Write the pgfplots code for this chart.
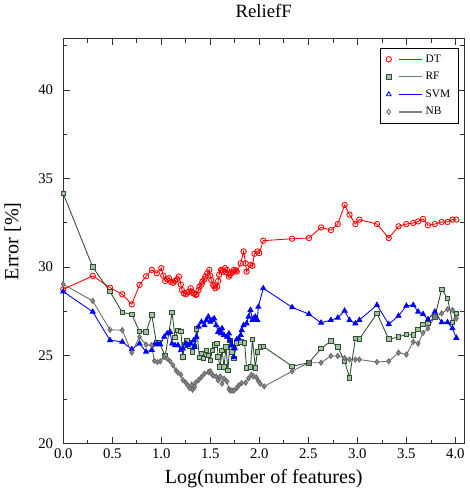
\documentclass[border=0pt]{standalone}
\usepackage{fontspec}
\setmainfont{Liberation Serif}
\usepackage{pgfplots}
\pgfplotsset{compat=1.18}
\definecolor{rfline}{RGB}{45,80,45}
\definecolor{rffill}{RGB}{165,192,165}
\definecolor{rfleg}{RGB}{100,130,100}
\definecolor{nbline}{RGB}{105,105,105}
\definecolor{nbfill}{RGB}{140,140,140}
\definecolor{nbleg}{RGB}{130,130,130}
\begin{document}
\begin{tikzpicture}
\begin{axis}[
  scale only axis,
  width=299pt, height=302pt,
  xmin=0, xmax=4.09, ymin=20, ymax=42.9,
  xtick={0,0.5,...,4.0},
  minor xtick={0.25,0.75,...,4.0},
  ytick={20,25,30,35,40},
  minor ytick={22.5,27.5,32.5,37.5,42.5},
  tick align=inside,
  major tick length=5pt, minor tick length=3pt,
  xticklabel style={/pgf/number format/fixed,/pgf/number format/fixed zerofill,/pgf/number format/precision=1},
  yticklabel style={xshift=-4pt},
  /pgf/number format/assume math mode=true,
  tick label style={font=\fontsize{11}{12}\selectfont},
  xlabel={Log(number of features)},
  ylabel={Error [\%]},
  label style={font=\fontsize{15}{17}\selectfont},
  xlabel style={yshift=-1pt},
  ylabel style={yshift=6pt},
  title={ReliefF},
  title style={font=\fontsize{14}{16}\selectfont, yshift=6pt},
  axis line style={black!80, line width=0.6pt},
  every tick/.style={black!80, line width=0.5pt},
  legend style={at={(0.986,0.978)}, anchor=north east, font=\fontsize{8.5}{10}\selectfont,
    inner xsep=4pt, inner ysep=3pt, row sep=2pt, cells={anchor=west}},
  every axis plot/.append style={line width=0.65pt},
]
\addplot[red, mark=o, mark size=2pt,
  legend image code/.code={\path[draw=red, line width=0.8pt] (8pt,0pt) -- (25pt,0pt); \draw[red, line width=0.65pt] plot[mark=o, mark size=2pt] coordinates {(0pt,0pt)};}] coordinates {
(0,28.73)(0.301,29.49)(0.477,28.82)(0.602,28.45)(0.699,27.88)(0.778,28.98)(0.845,29.47)(0.903,29.83)(0.954,29.64)(1.0,29.93)
(1.02,29.5)(1.04,29.2)(1.06,29.3)(1.08,29.36)(1.10,29.15)(1.12,29.1)(1.14,29.2)(1.16,29.3)(1.18,29.45)(1.20,29.0)
(1.21,28.69)(1.23,28.5)(1.25,28.45)(1.27,28.55)(1.28,28.6)(1.30,28.79)(1.31,28.6)(1.33,28.5)(1.35,28.41)(1.36,28.45)
(1.38,28.69)(1.39,28.88)(1.41,29.0)(1.42,29.17)(1.44,29.3)(1.45,29.45)(1.47,29.64)(1.49,29.83)(1.50,29.5)(1.51,29.26)
(1.53,28.98)(1.54,28.9)(1.55,28.79)(1.57,28.88)(1.58,29.2)(1.59,29.55)(1.61,29.83)(1.62,29.8)(1.63,29.73)(1.65,29.93)
(1.66,29.7)(1.67,29.83)(1.69,29.45)(1.70,29.55)(1.71,29.64)(1.73,29.7)(1.74,29.83)(1.76,29.8)(1.77,29.73)
(1.81,30.2)(1.84,30.87)(1.86,30.2)(1.87,29.73)(1.91,30.11)(1.93,30.06)(1.95,30.74)(1.98,30.87)(2.0,30.78)(2.04,31.48)
(2.335,31.59)(2.506,31.63)(2.63,32.23)(2.73,32.08)(2.80,32.42)(2.87,33.5)(2.92,32.95)(2.98,32.42)(3.02,32.67)(3.20,32.42)
(3.32,31.63)(3.42,32.29)(3.50,32.42)(3.57,32.48)(3.62,32.57)(3.67,32.71)(3.72,32.35)(3.79,32.42)(3.86,32.54)(3.92,32.54)
(3.97,32.67)(4.01,32.67)
};
\addlegendentry{DT}
\addplot[rfline, mark=square*, mark size=1.7pt, mark options={fill=rffill, draw=rfline},
  legend image code/.code={\path[draw=rfleg, line width=0.9pt] (8pt,0pt) -- (25pt,0pt); \draw[rfline, line width=0.65pt] plot[mark=square*, mark size=1.7pt, mark options={fill=rffill}] coordinates {(0pt,0pt)};}] coordinates {
(0,34.15)(0.301,29.98)(0.477,28.6)(0.602,27.43)(0.699,27.31)(0.778,26.36)(0.845,26.31)(0.903,27.29)(0.95,25.7)(0.98,25.72)
(1.04,24.95)(1.11,27.43)(1.14,26.0)(1.17,26.4)(1.20,26.35)(1.22,24.9)(1.24,25.6)(1.26,25.85)(1.29,25.5)(1.32,25.19)
(1.34,25.5)(1.36,26.5)(1.39,24.87)(1.41,25.1)(1.43,24.81)(1.46,25.28)(1.48,25.0)(1.50,24.72)(1.52,25.28)(1.55,25.57)
(1.57,25.66)(1.58,24.9)(1.60,24.34)(1.62,25.28)(1.64,24.34)(1.66,25.47)(1.68,24.15)(1.70,25.85)(1.72,25.2)(1.74,24.81)
(1.77,25.7)(1.81,25.76)(1.85,25.7)(1.87,24.3)(1.91,24.34)(1.93,25.9)(1.96,24.3)(1.98,25.2)(2.01,25.47)(2.04,25.5)
(2.335,24.38)(2.506,24.58)(2.63,25.38)(2.73,25.80)(2.80,25.47)(2.87,24.66)(2.92,23.73)(2.98,25.95)(3.02,25.91)(3.20,27.37)
(3.32,25.91)(3.42,26.04)(3.50,26.18)(3.57,26.14)(3.62,26.46)(3.67,26.74)(3.72,26.80)(3.79,27.18)(3.86,28.73)(3.92,28.22)
(3.97,26.86)(4.01,27.37)
};
\addlegendentry{RF}
\addplot[blue, mark=triangle*, mark size=2.1pt, mark options={fill=blue},
  legend image code/.code={\path[draw=blue, line width=0.8pt] (8pt,0pt) -- (25pt,0pt); \draw[blue, line width=0.65pt] plot[mark=triangle, mark size=2pt] coordinates {(0pt,0pt)};}] coordinates {
(0,28.6)(0.301,27.46)(0.477,25.85)(0.602,25.76)(0.699,25.34)(0.778,25.66)(0.845,25.2)(0.903,25.3)(0.93,25.61)(0.96,25.66)
(0.99,25.61)(1.03,26.04)(1.06,26.23)(1.09,26.32)(1.11,25.66)(1.14,25.57)(1.17,25.57)(1.20,25.28)(1.22,25.38)(1.25,25.66)
(1.27,25.57)(1.30,25.66)(1.33,25.85)(1.34,25.47)(1.36,26.04)(1.38,26.61)(1.41,26.89)(1.44,26.7)(1.46,26.99)(1.48,27.18)
(1.50,26.89)(1.52,26.99)(1.54,27.08)(1.56,26.7)(1.58,26.32)(1.59,26.42)(1.61,26.23)(1.62,26.52)(1.64,26.14)(1.67,26.04)
(1.69,26.23)(1.70,25.85)(1.72,25.57)(1.74,24.9)(1.75,25.38)(1.77,25.9)(1.79,25.95)(1.81,26.14)(1.82,26.42)(1.84,26.7)
(1.87,26.8)(1.89,27.18)(1.91,27.56)(1.93,26.99)(1.94,27.08)(1.96,27.18)(1.98,26.99)(1.99,27.74)(2.04,28.79)
(2.335,27.71)(2.506,27.33)(2.63,26.84)(2.73,26.99)(2.80,27.12)(2.87,27.52)(2.92,26.99)(2.98,26.80)(3.02,26.99)(3.20,27.84)
(3.32,26.76)(3.42,27.23)(3.50,27.80)(3.57,27.84)(3.62,27.46)(3.67,27.33)(3.72,27.03)(3.79,27.46)(3.86,26.86)(3.92,26.86)
(3.97,26.52)(4.01,25.98)
};
\addlegendentry{SVM}
\addplot[nbline, mark=diamond*, mark size=1.9pt, mark options={fill=nbfill, draw=nbline},
  legend image code/.code={\path[draw=nbleg, line width=0.9pt] (8pt,0pt) -- (25pt,0pt); \draw[nbline, line width=0.65pt] plot[mark=diamond, mark size=1.9pt] coordinates {(0pt,0pt)};}] coordinates {
(0,29.02)(0.301,28.07)(0.477,26.44)(0.602,26.42)(0.699,25.15)(0.778,26.04)(0.845,25.6)(0.90,25.57)(0.93,24.68)(0.96,24.62)
(0.99,24.66)(1.03,24.9)(1.06,24.81)(1.09,24.66)(1.12,24.43)(1.15,24.15)(1.17,24.02)(1.20,23.9)(1.22,23.6)(1.25,23.45)
(1.27,23.3)(1.29,23.14)(1.31,23.34)(1.32,23.05)(1.34,23.2)(1.35,23.45)(1.38,23.6)(1.41,23.77)(1.44,23.96)(1.48,24.05)
(1.50,24.1)(1.51,23.96)(1.53,23.85)(1.56,23.8)(1.58,23.58)(1.60,23.8)(1.62,23.39)(1.64,23.68)(1.67,23.52)(1.69,23.1)
(1.70,23.01)(1.72,23.01)(1.74,23.0)(1.77,23.15)(1.79,23.3)(1.82,23.43)(1.86,23.45)(1.89,23.7)(1.92,23.9)(1.94,23.81)
(1.97,23.75)(1.99,23.55)(2.01,23.39)(2.05,23.24)
(2.335,24.1)(2.506,24.58)(2.63,24.58)(2.73,24.96)(2.80,24.96)(2.87,24.85)(2.92,24.76)(2.98,24.76)(3.02,24.76)(3.20,24.62)
(3.32,24.66)(3.42,25.15)(3.50,25.04)(3.57,25.76)(3.62,25.66)(3.67,26.27)(3.72,26.52)(3.79,27.18)(3.86,27.37)(3.92,27.60)
(3.97,27.56)(4.01,27.08)
};
\addlegendentry{NB}
\end{axis}
\end{tikzpicture}
\end{document}
